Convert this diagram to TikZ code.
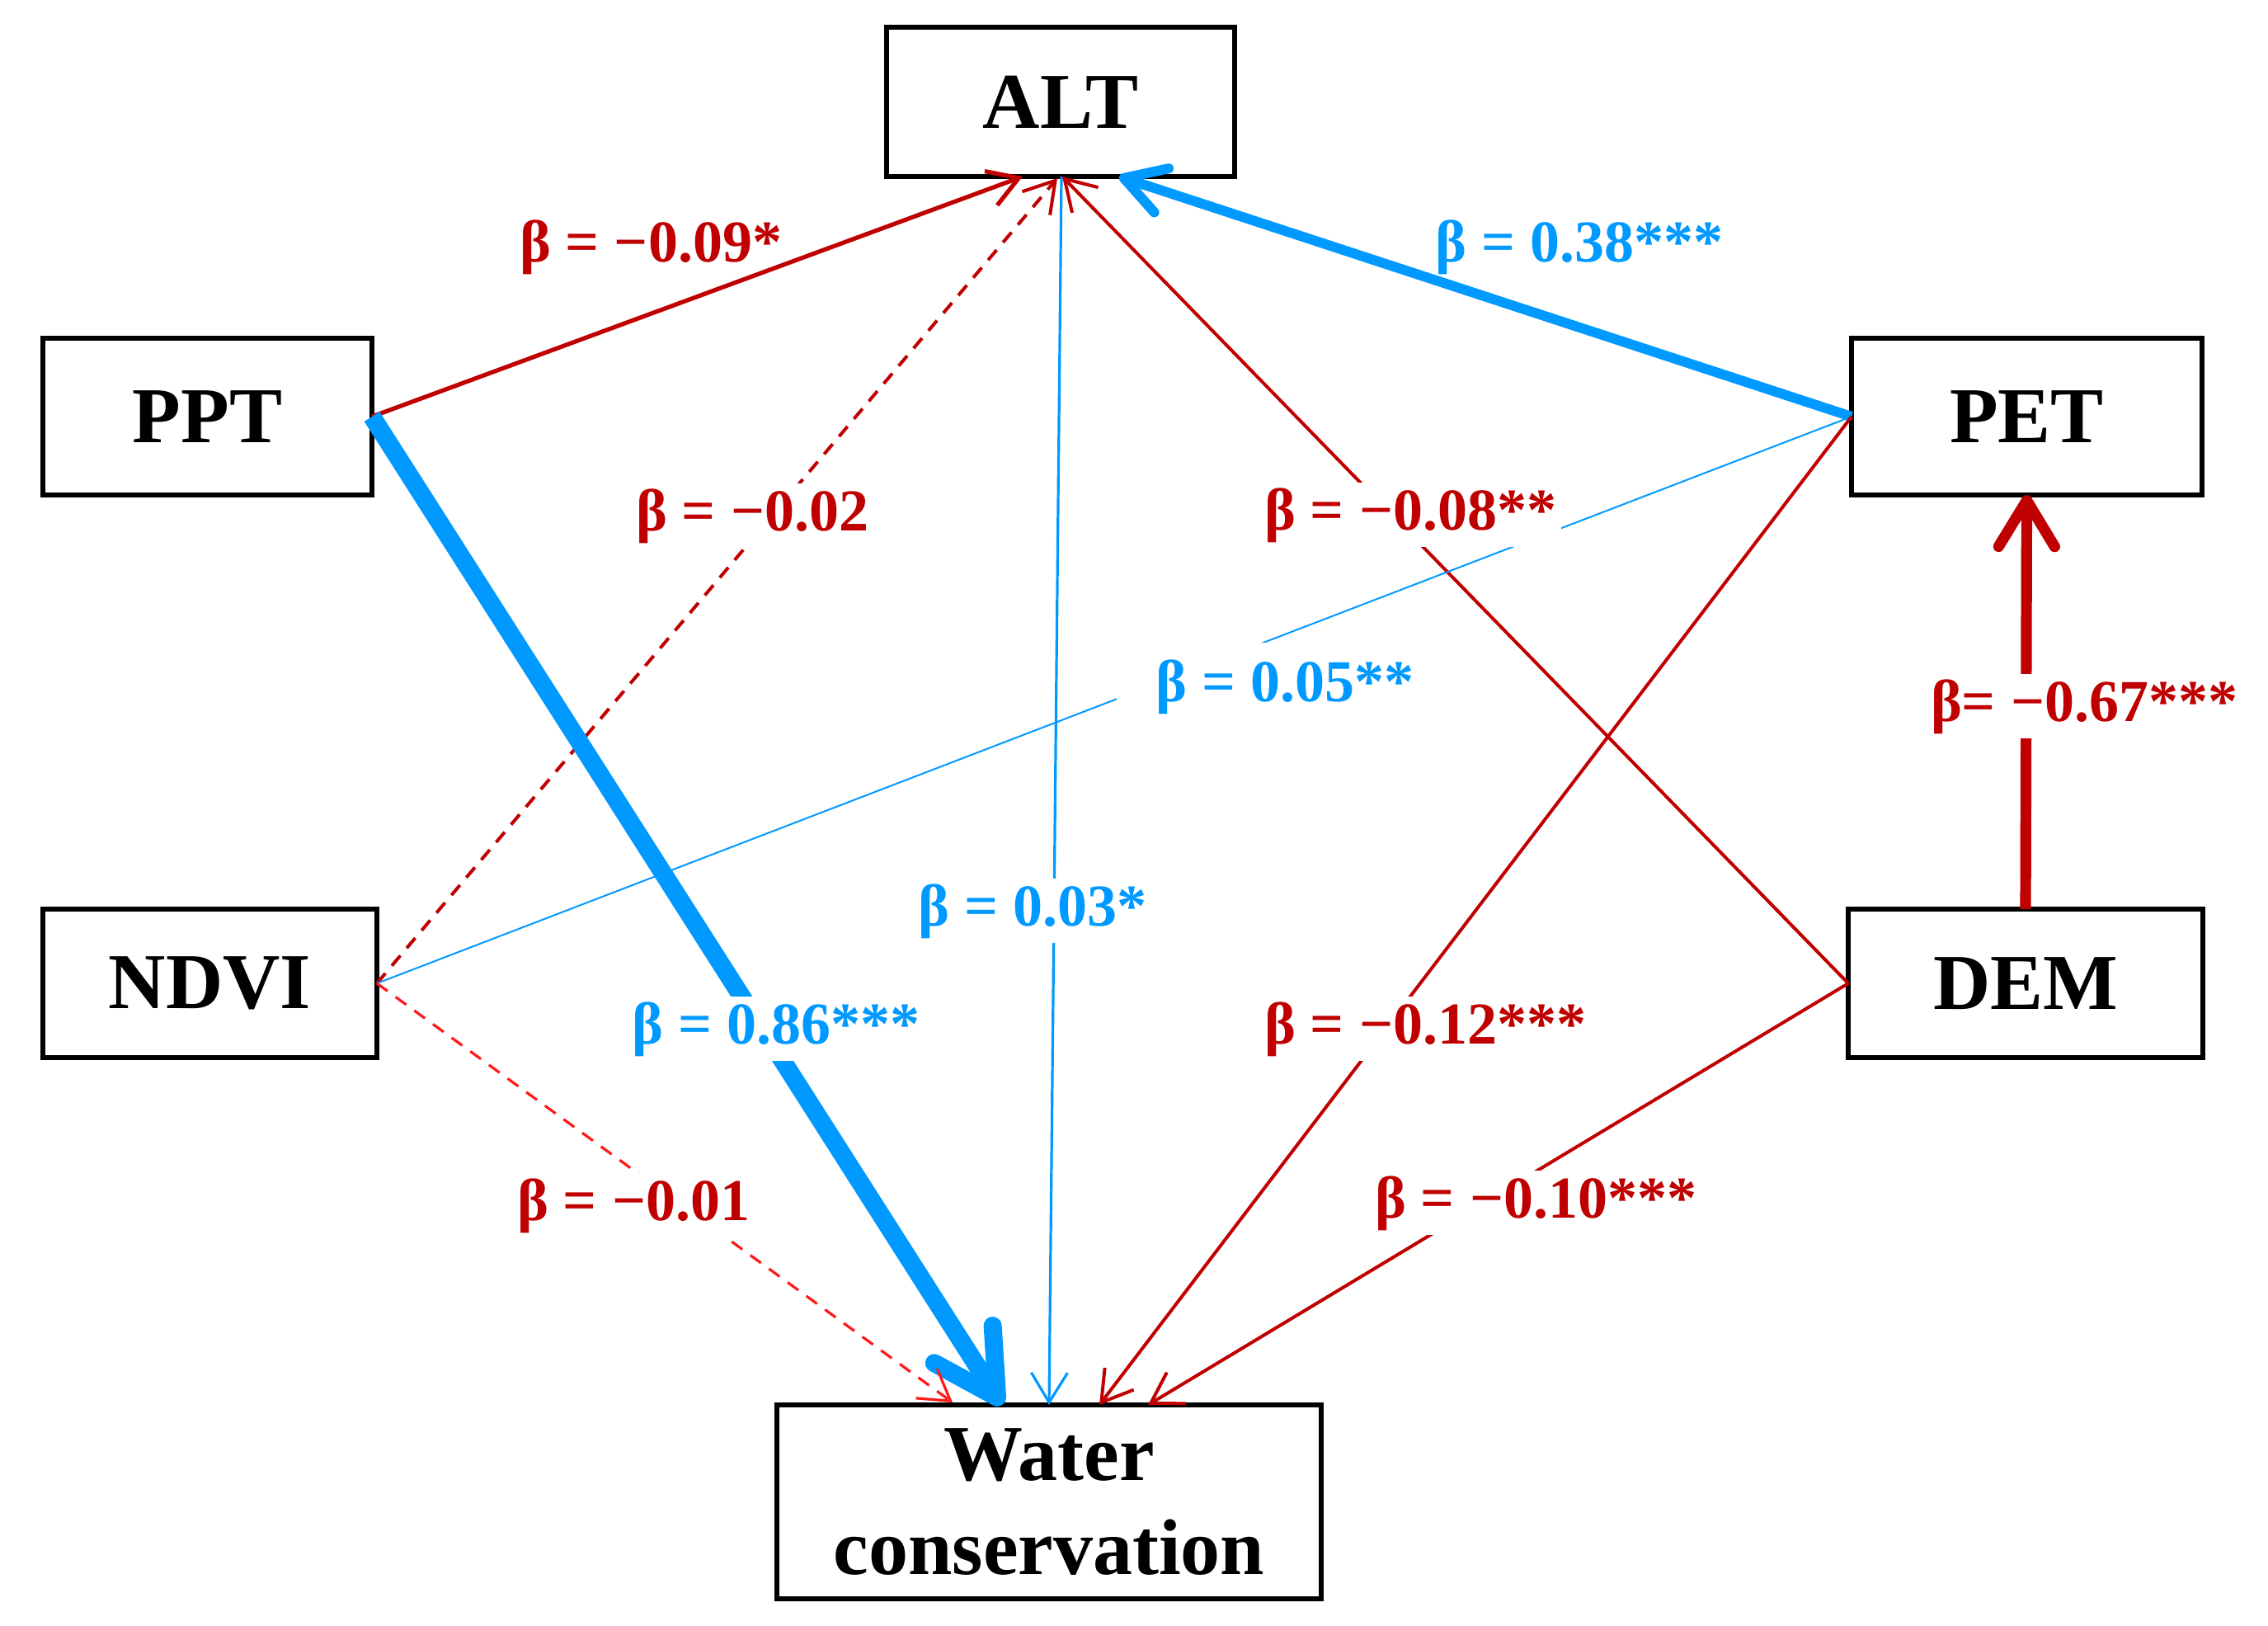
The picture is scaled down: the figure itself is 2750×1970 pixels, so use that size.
\documentclass[tikz,border=0pt]{standalone}
\usepackage{fontspec}
\setmainfont{Liberation Serif}
\usetikzlibrary{arrows.meta,calc}
\definecolor{cred}{RGB}{192,0,0}
\definecolor{cblue}{RGB}{0,153,255}
\definecolor{bred}{RGB}{255,25,25}
\begin{document}
\begin{tikzpicture}[x=0.25pt,y=-0.25pt,
  box/.style={draw=black,line width=1.3pt,fill=white,inner sep=0pt,outer sep=0pt,
    font=\fontsize{24}{28.5}\selectfont\bfseries,align=center},
  labnf/.style={font=\fontsize{18}{20}\selectfont\bfseries,inner sep=1.5pt,anchor=base},
  lab/.style={labnf,fill=white},
  thinhead/.style={-{Straight Barb[length=9pt,width=11pt]}},
  redline/.style={draw=cred,line width=1pt,thinhead},
  dashline/.style={line width=1pt,dash pattern=on 4pt off 3pt,thinhead}
]
\useasboundingbox (0,0) rectangle (2750,1970);
% nodes
\node[box,minimum width=105.5pt,minimum height=45.25pt] (alt) at (1286,123.5) {ALT};
\node[box,minimum width=99.75pt,minimum height=47.5pt] (ppt) at (251.5,505) {PPT};
\node[box,minimum width=106.25pt,minimum height=47.5pt] (pet) at (2457.5,505) {PET};
\node[box,minimum width=101.25pt,minimum height=45pt] (ndvi) at (254.5,1192) {NDVI};
\node[box,minimum width=107.5pt,minimum height=45pt] (dem) at (2456,1192) {DEM};
\node[box,minimum width=165pt,minimum height=58.75pt] (water) at (1272,1820.5) {Water\\conservation};
% connectors
\draw[redline,line width=1.3pt] (ppt.east) -- ($(alt.south)+(-46,0)$);
\draw[dashline,draw=cred] (ndvi.east) -- ($(alt.south)+(-4,2)$);
\draw[draw=cblue,line width=0.8pt,thinhead] ($(alt.south)+(1,0)$) -- (water.north);
\draw[redline] (dem.west) -- ($(alt.south)+(2,0)$);
\draw[draw=cblue,line width=3pt,-{Straight Barb[length=12pt,width=14pt,round]}] (pet.west) -- ($(alt.south)+(71,0)$);
\draw[draw=cblue,line width=5.5pt,-{Straight Barb[length=19pt,width=21pt,round]}] (ppt.east) -- ($(water.north)+(-57,0)$);
\draw[draw=cblue,line width=0.5pt] (ndvi.east) -- (pet.west);
\draw[dashline,draw=bred,line width=0.8pt] (ndvi.east) -- ($(water.north)+(-117,-3)$);
\draw[redline] (pet.west) -- ($(water.north)+(61,0)$);
\draw[redline] (dem.west) -- ($(water.north)+(120,0)$);
\draw[draw=cred,line width=3.3pt,-{Straight Barb[length=14pt,width=17pt,round]}] (dem.north) -- (pet.south);
% labels
\node[labnf,text=cred] (l1) at (789,317) {β = −0.09*};
\node[lab,text=cred] (l2) at (912,643) {β = −0.02};
\node[labnf,text=cblue] (l3) at (1915,317) {β = 0.38***};
\node[lab,text=cred] (l4) at (1710,642) {β = −0.08**};
\node[lab,text=cblue,inner xsep=12pt,inner ysep=5pt] (l5) at (1558,850) {β = 0.05**};
\node[lab,text=cred] (l6) at (2527,874) {β= −0.67***};
\node[lab,text=cblue] (l7) at (1252,1122) {β = 0.03*};
\node[lab,text=cblue] (l8) at (941,1265) {β = 0.86***};
\node[lab,text=cred] (l9) at (1728,1265) {β = −0.12***};
\node[lab,text=cred] (l10) at (768,1479) {β = −0.01};
\node[lab,text=cred] (l11) at (1862,1476) {β = −0.10***};
\end{tikzpicture}
\end{document}
